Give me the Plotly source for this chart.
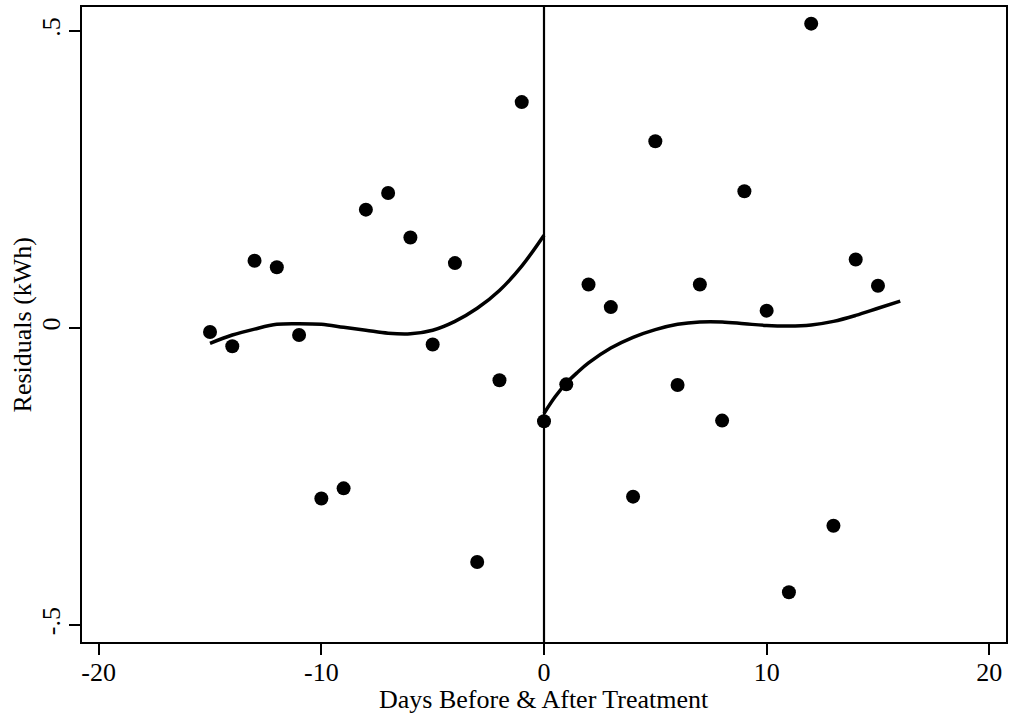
import plotly.graph_objects as go

# Scatter data: residuals by day relative to treatment
days = list(range(-15, 16))
residuals = [-0.007, -0.031, 0.113, 0.102, -0.012, -0.287, -0.270, 0.199, 0.227, 0.152,
             -0.028, 0.109, -0.394, -0.088, 0.380, -0.157, -0.095, 0.073, 0.035, -0.284,
             0.314, -0.096, 0.073, -0.156, 0.230, 0.029, -0.445, 0.512, -0.333, 0.115, 0.071]

# Fitted curve before treatment
fit_pre_x = [-15, -14, -13, -12, -11, -10, -9, -8, -7, -6, -5, -4, -3, -2, -1, 0]
fit_pre_y = [-0.026, -0.012, -0.002, 0.006, 0.007, 0.006, 0.001, -0.004, -0.009, -0.010,
             -0.004, 0.011, 0.033, 0.063, 0.104, 0.156]

# Fitted curve after treatment
fit_post_x = [0, 0.5, 1, 1.5, 2, 3, 4, 5, 6, 7, 8, 9, 10, 11, 12, 13, 14, 15, 16]
fit_post_y = [-0.144, -0.116, -0.093, -0.075, -0.059, -0.034, -0.016, -0.003, 0.006, 0.010,
              0.010, 0.007, 0.004, 0.003, 0.005, 0.011, 0.021, 0.033, 0.045]

x_ticks = [-20, -10, 0, 10, 20]
x_tick_text = ["-20", "-10", "0", "10", "20"]
y_ticks = [-0.5, 0, 0.5]
y_tick_text = ["-.5", "0", ".5"]
treatment_day = 0
x_title = "Days Before & After Treatment"
y_title = "Residuals (kWh)"

FONT = "Liberation Serif, Times New Roman, serif"

fig = go.Figure()
fig.add_trace(go.Scatter(x=days, y=residuals, mode="markers",
                         marker=dict(color="black", size=14, line=dict(width=0)),
                         showlegend=False))
fig.add_trace(go.Scatter(x=fit_pre_x, y=fit_pre_y, mode="lines",
                         line=dict(color="black", width=3.5, shape="spline"),
                         showlegend=False))
fig.add_trace(go.Scatter(x=fit_post_x, y=fit_post_y, mode="lines",
                         line=dict(color="black", width=3.5, shape="spline"),
                         showlegend=False))

fig.add_vline(x=treatment_day, line=dict(color="black", width=2.2))

fig.update_layout(
    width=1010, height=719,
    margin=dict(l=82, r=4, t=7, b=77),
    paper_bgcolor="white", plot_bgcolor="white",
    font=dict(family=FONT, size=26, color="black"),
    annotations=[
        dict(text=x_title, xref="paper", yref="paper", x=0.5, y=-0.0898,
             xanchor="center", yanchor="middle", showarrow=False,
             font=dict(family=FONT, size=26, color="black")),
        dict(text=y_title, xref="paper", yref="paper", x=-0.0639, y=0.5,
             xanchor="center", yanchor="middle", textangle=-90, showarrow=False,
             font=dict(family=FONT, size=26, color="black")),
    ],
)
fig.update_xaxes(
    range=[-20.75, 20.75], tickvals=x_ticks, ticktext=x_tick_text,
    ticks="outside", ticklen=11, tickwidth=1.5,
    tickcolor="black", showline=True, linecolor="black", linewidth=1.8, mirror=True,
    showgrid=False, zeroline=False, ticklabelstandoff=-5, automargin=False,
    tickfont=dict(size=26),
)
fig.update_yaxes(
    range=[-0.5286, 0.54], tickvals=y_ticks, ticktext=y_tick_text, tickangle=-90,
    ticks="outside", ticklen=11, tickwidth=1.5, tickcolor="black",
    showline=True, linecolor="black", linewidth=1.8, mirror=True,
    showgrid=False, zeroline=False, ticklabelstandoff=-1, automargin=False,
    tickfont=dict(size=26),
)

fig.write_html("out.html", config={"displayModeBar": False},
               post_script="document.body.style.margin='0';document.body.style.padding='0';")
